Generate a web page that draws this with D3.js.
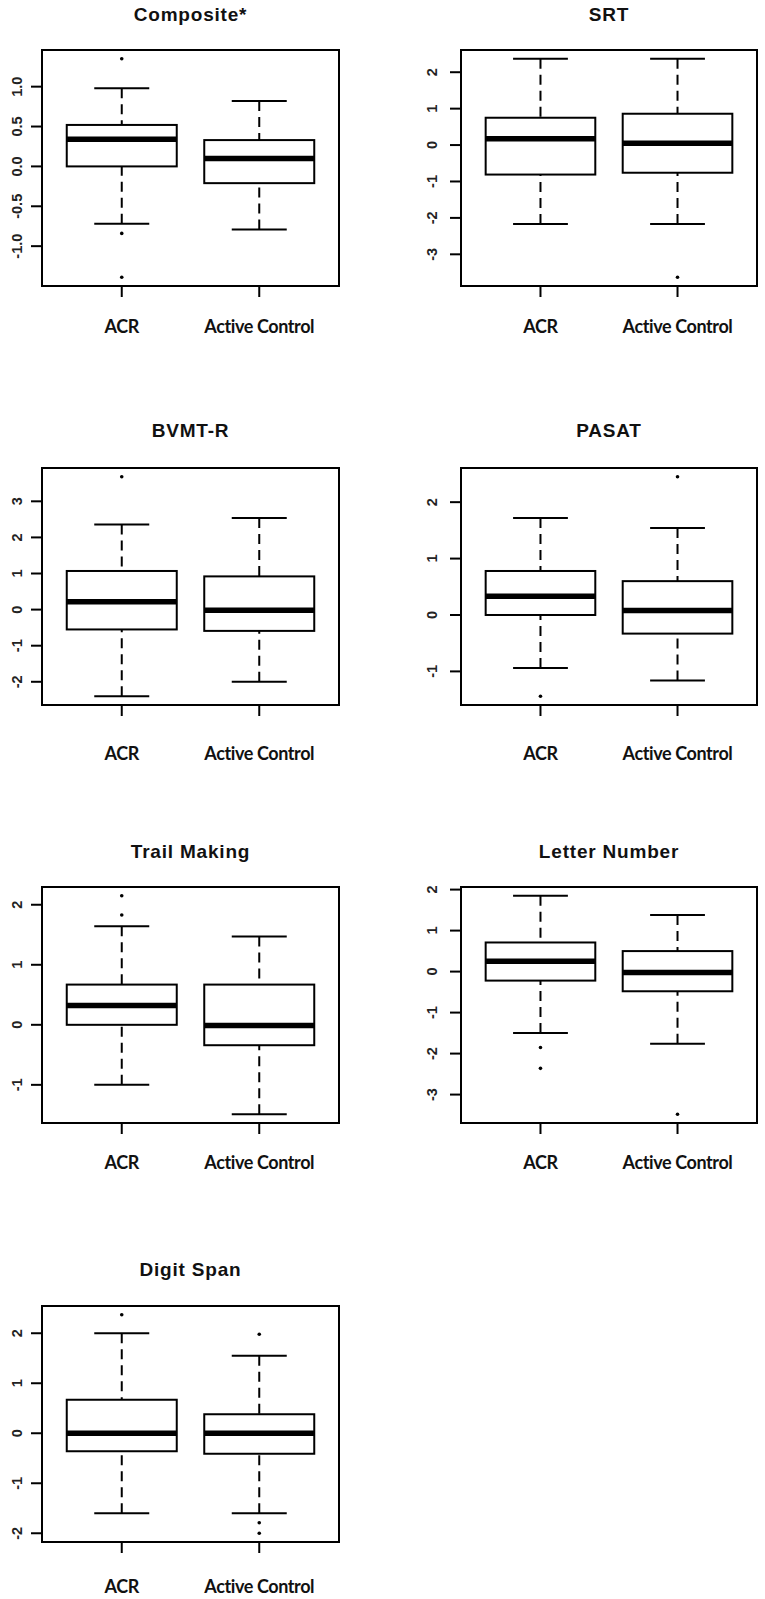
<!DOCTYPE html>
<html><head><meta charset="utf-8">
<script src="https://cdn.jsdelivr.net/npm/d3@7"></script>
<style>
html,body{margin:0;padding:0;background:#fff;}
svg{display:block;}
</style></head>
<body>
<script>
// ---- data ----
const tests = ["Composite*", "SRT", "BVMT-R", "PASAT", "Trail Making", "Letter Number", "Digit Span"];
const groups = ["ACR", "Active Control"];
// per test: [ACR, Active Control]
const whiskerLow  = [[-0.72,-0.79],[-2.17,-2.17],[-2.40,-2.00],[-0.94,-1.16],[-1.00,-1.49],[-1.50,-1.76],[-1.60,-1.60]];
const quartile1   = [[ 0.00,-0.21],[-0.81,-0.76],[-0.55,-0.59],[ 0.00,-0.33],[ 0.00,-0.34],[-0.22,-0.48],[-0.36,-0.41]];
const medians     = [[ 0.34, 0.10],[ 0.17, 0.05],[ 0.22,-0.02],[ 0.33, 0.08],[ 0.32,-0.01],[ 0.25,-0.02],[ 0.00, 0.00]];
const quartile3   = [[ 0.52, 0.33],[ 0.75, 0.86],[ 1.07, 0.92],[ 0.78, 0.60],[ 0.67, 0.67],[ 0.71, 0.50],[ 0.67, 0.38]];
const whiskerHigh = [[ 0.98, 0.82],[ 2.37, 2.37],[ 2.36, 2.54],[ 1.72, 1.54],[ 1.64, 1.47],[ 1.85, 1.38],[ 2.00, 1.55]];
const outliers    = [
  [[1.35,-0.84,-1.39],[]],
  [[],[-3.63]],
  [[3.68],[]],
  [[-1.44],[2.45]],
  [[2.15,1.83],[]],
  [[-1.85,-2.36],[-3.48]],
  [[2.37],[1.98,-1.79,-2.00]]
];
const tickValues = [
  [-1,-0.5,0,0.5,1],
  [-3,-2,-1,0,1,2],
  [-2,-1,0,1,2,3],
  [-1,0,1,2],
  [-1,0,1,2],
  [-3,-2,-1,0,1,2],
  [-2,-1,0,1,2]
];
const tickLabels = [
  ["-1.0","-0.5","0.0","0.5","1.0"],
  ["-3","-2","-1","0","1","2"],
  ["-2","-1","0","1","2","3"],
  ["-1","0","1","2"],
  ["-1","0","1","2"],
  ["-3","-2","-1","0","1","2"],
  ["-2","-1","0","1","2"]
];

// ---- layout ----
const W = 765, H = 1599;
const colX = [[42, 339], [461, 757]];
const colLabelOff = [20, 24];
const rowY = [[50, 286], [468, 705], [887, 1123], [1306, 1542]];
const rowTitleY = [14, 430, 851, 1269];
const rowCatY = [327, 754, 1163, 1587];

const svg = d3.select("body").append("svg").attr("width", W).attr("height", H);

tests.forEach((name, i) => {
  const col = i % 2, row = Math.floor(i / 2);
  const [x0, x1] = colX[col];
  const [y0, y1] = rowY[row];

  // R-style y limits: data range extended 4%
  const all = [].concat(...whiskerLow[i], ...whiskerHigh[i], ...outliers[i][0], ...outliers[i][1]);
  const lo = d3.min(all), hi = d3.max(all), pad = (hi - lo) * 0.04;
  const y = d3.scaleLinear().domain([lo - pad, hi + pad]).range([y1, y0]);
  const x = d3.scaleLinear().domain([0.42, 2.58]).range([x0, x1]);

  const g = svg.append("g");

  // title
  g.append("text").attr("x", (x0 + x1) / 2).attr("y", rowTitleY[row] + 7)
    .attr("text-anchor", "middle")
    .style("font-family", "'Liberation Sans', Arial, sans-serif")
    .style("font-weight", "bold").style("font-size", "19px").style("letter-spacing", "0.8px")
    .attr("fill", "#111").text(name);

  // boxes
  groups.forEach((grp, j) => {
    const cx = x(j + 1);
    const bw = x(1.4) - x(1.0);   // half box width (0.8 boxwex)
    const sw = x(1.2) - x(1.0);   // half staple width
    const bg = g.append("g").attr("stroke", "#000").attr("fill", "none");
    // whiskers (dashed), drawn from staple toward box
    bg.append("line").attr("x1", cx).attr("x2", cx)
      .attr("y1", y(whiskerHigh[i][j])).attr("y2", y(quartile3[i][j]))
      .attr("stroke-width", 2).attr("stroke-dasharray", "10,6");
    bg.append("line").attr("x1", cx).attr("x2", cx)
      .attr("y1", y(whiskerLow[i][j])).attr("y2", y(quartile1[i][j]))
      .attr("stroke-width", 2).attr("stroke-dasharray", "10,6");
    // staples
    [whiskerHigh[i][j], whiskerLow[i][j]].forEach(v => {
      bg.append("line").attr("x1", cx - sw).attr("x2", cx + sw)
        .attr("y1", y(v)).attr("y2", y(v)).attr("stroke-width", 2);
    });
    // box
    bg.append("rect").attr("x", cx - bw).attr("width", 2 * bw)
      .attr("y", y(quartile3[i][j])).attr("height", y(quartile1[i][j]) - y(quartile3[i][j]))
      .attr("fill", "#fff").attr("stroke-width", 2);
    // median
    bg.append("line").attr("x1", cx - bw).attr("x2", cx + bw)
      .attr("y1", y(medians[i][j])).attr("y2", y(medians[i][j])).attr("stroke-width", 5.5);
    // outliers
    outliers[i][j].forEach(v => {
      g.append("circle").attr("cx", cx).attr("cy", y(v)).attr("r", 1.8).attr("fill", "#000");
    });
    // x tick + category label
    g.append("line").attr("x1", cx).attr("x2", cx).attr("y1", y1).attr("y2", y1 + 11)
      .attr("stroke", "#000").attr("stroke-width", 2);
    g.append("text").attr("x", cx).attr("y", rowCatY[row] + 6)
      .attr("text-anchor", "middle")
      .style("font-family", "Lato, 'Open Sans', sans-serif").style("font-weight", "bold")
      .style("font-size", "18px").style("letter-spacing", "-0.4px")
      .attr("fill", "#111").text(grp);
  });

  // y ticks
  tickValues[i].forEach((v, k) => {
    const ty = y(v);
    g.append("line").attr("x1", x0 - 11).attr("x2", x0).attr("y1", ty).attr("y2", ty)
      .attr("stroke", "#000").attr("stroke-width", 2);
    const lx = x0 - colLabelOff[col];
    g.append("text").attr("transform", `translate(${lx},${ty}) rotate(-90)`)
      .attr("text-anchor", "middle")
      .style("font-family", "'Liberation Sans', Arial, sans-serif").style("font-size", "14.5px")
      .style("font-weight", "bold")
      .attr("fill", "#222").text(tickLabels[i][k]);
  });

  // frame
  g.append("rect").attr("x", x0).attr("y", y0).attr("width", x1 - x0).attr("height", y1 - y0)
    .attr("fill", "none").attr("stroke", "#000").attr("stroke-width", 2);
});
</script>
</body></html>
